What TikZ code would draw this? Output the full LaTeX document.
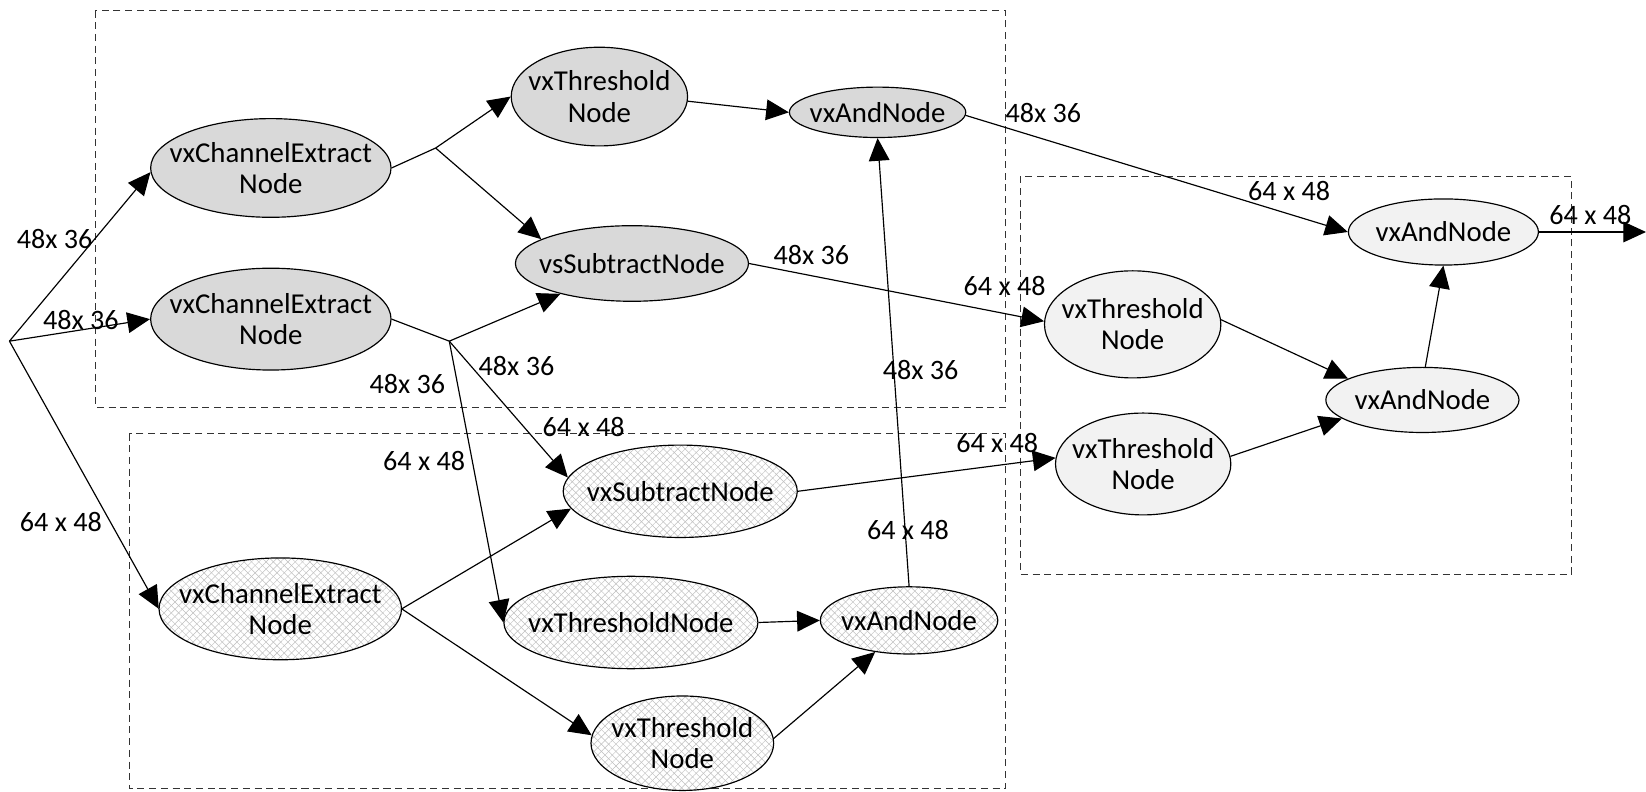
\documentclass[tikz,border=0pt]{standalone}
\usepackage{fontspec}
\setmainfont{Carlito}
\usetikzlibrary{arrows.meta}
\usetikzlibrary{patterns.meta}
\usetikzlibrary{shapes.geometric}
\newcommand{\pxu}{0.015746cm}
\tikzset{
  vxnode/.style={ellipse, draw, inner sep=-3cm, align=center, font=\fontsize{12.3}{13.3}\selectfont},
  sz/.style 2 args={minimum width=#1*\pxu, minimum height=#2*\pxu},
  grpA/.style={vxnode, fill=gray!30},
  grpB/.style={vxnode, preaction={fill=white},
    preaction={pattern={Lines[angle=45,distance=2.2pt,line width=0.2pt]}, pattern color=gray!50},
    pattern={Lines[angle=-45,distance=2.2pt,line width=0.2pt]}, pattern color=gray!50},
  grpC/.style={vxnode, fill=gray!10},
  grpbox/.style={draw=black!80, line width=0.4pt, dash pattern=on 3pt off 2pt},
  sizelbl/.style={inner sep=0pt, font=\fontsize{12}{13}\selectfont}
}
\begin{document}
\begin{tikzpicture}[x=\pxu, y=-\pxu, line width=0.5pt, >={Triangle[length=0.34cm,width=0.31cm]}]
\useasboundingbox (0,0) rectangle (1568,754);
\draw[grpbox] (91,10) rectangle (958,388); %first group
\draw[grpbox] (123,413) rectangle (958,751); %second group
\draw[grpbox] (972,168) rectangle (1497,547); %merge group
% first group
\node[grpA, sz={229}{94}] (ce1) at (258,160) {vxChannelExtract\\Node};
\node[grpA, sz={229}{97}] (ce2) at (258,304) {vxChannelExtract\\Node};
\node[grpA, sz={168}{94}] (th1) at (571,92) {vxThreshold\\Node};
\node[grpA, sz={168}{48}] (and1) at (836,107) {vxAndNode};
\node[grpA, sz={222}{72}] (sub1) at (602,251) {vsSubtractNode};
% second group
\node[grpB, sz={231}{97}] (ce3) at (267,580) {vxChannelExtract\\Node};
\node[grpB, sz={223}{88}] (sub2) at (648,468) {vxSubtractNode};
\node[grpB, sz={242}{88}] (th2) at (601,593) {vxThresholdNode};
\node[grpB, sz={169}{64}] (and2) at (866,591) {vxAndNode};
\node[grpB, sz={174}{90}] (th3) at (650,708) {vxThreshold\\Node};
% merge group
\node[grpC, sz={181}{63}] (and3) at (1375,221) {vxAndNode};
\node[grpC, sz={168}{102}] (th4) at (1079,309) {vxThreshold\\Node};
\node[grpC, sz={184}{62}] (and4) at (1355,381) {vxAndNode};
\node[grpC, sz={167}{97}] (th5) at (1089,442) {vxThreshold\\Node};
% branch points
\coordinate (src) at (9,325);
\coordinate (j1) at (415,141);
\coordinate (j2) at (428,325);
\coordinate (out) at (1568,221);
% connectors
\draw[->] (src) -- (ce1.182);
\draw[->] (src) -- (ce2.west);
\draw[->] (src) -- (ce3.west);
\draw (ce1.east) -- (j1);
\draw[->] (j1) -- (th1.west);
\draw[->] (j1) -- (sub1.165);
\draw (ce2.east) -- (j2);
\draw[->] (j2) -- (sub1.203);
\draw[->] (j2) -- (sub2.173);
\draw[->] (j2) -- (th2.west);
\draw[->] (ce3.east) -- (sub2.189);
\draw[->] (ce3.east) -- (th3.175);
\draw[->] (th1.-3) -- (and1.west);
\draw[->] (th2.east) -- (and2.west);
\draw[->] (th3.3) -- (and2.223);
\draw[->] (and2.north) -- (and1.south);
\draw[->] (and1.-2) -- (and3.west);
\draw[->] (sub1.east) -- (th4.178);
\draw[->] (sub2.east) -- (th5.176);
\draw[->] (th4.3) -- (and4.164);
\draw[->] (th5.5) -- (and4.193);
\draw[->] (and4.85) -- (and3.south);
\draw[->] (and3.east) -- (out);
% sizes
\node[sizelbl] (l1) at (52,228) {48x 36};
\node[sizelbl] (l2) at (77,305) {48x 36};
\node[sizelbl] (l3) at (58,497) {64 x 48};
\node[sizelbl] (l4) at (388,366) {48x 36};
\node[sizelbl] (l5) at (492,349) {48x 36};
\node[sizelbl] (l6) at (556,407) {64 x 48};
\node[sizelbl] (l7) at (404,439) {64 x 48};
\node[sizelbl] (l8) at (994,108) {48x 36};
\node[sizelbl] (l9) at (1228,182) {64 x 48};
\node[sizelbl] (l10) at (773,243) {48x 36};
\node[sizelbl] (l11) at (957,272) {64 x 48};
\node[sizelbl] (l12) at (877,352) {48x 36};
\node[sizelbl] (l13) at (950,422) {64 x 48};
\node[sizelbl] (l14) at (865,505) {64 x 48};
\node[sizelbl] (l15) at (1515,205) {64 x 48};
\end{tikzpicture}
\end{document}
